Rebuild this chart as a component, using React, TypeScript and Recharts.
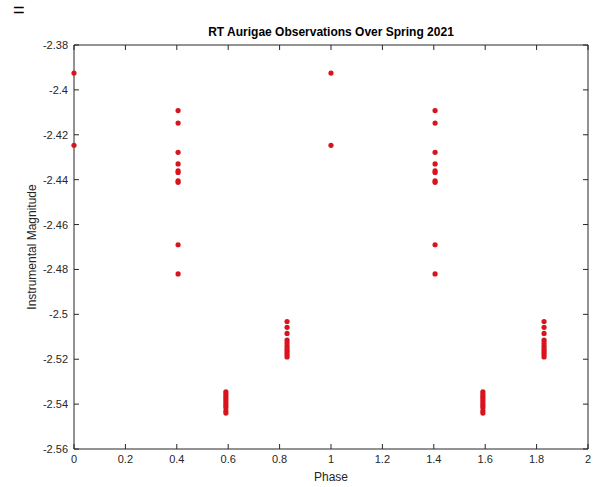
import { ScatterChart, Scatter, XAxis, YAxis } from 'recharts';

// phase clusters (each cluster repeats one period later)
const peakPhase = 0;
const peakMags = [-2.3925, -2.4247];
const riseA = 0.405;
const riseMags = [-2.4092, -2.4148, -2.4278, -2.433, -2.4361, -2.4368, -2.4405, -2.4412, -2.469, -2.482];
const minPhase = 0.591;
const minMags = [-2.5345, -2.5355, -2.5365, -2.5375, -2.5385, -2.5395, -2.5405, -2.5415, -2.543, -2.544];
const fallPhase = 0.829;
const fallMags = [-2.5032, -2.5058, -2.5085, -2.5115, -2.5128, -2.514, -2.515, -2.516, -2.517, -2.518, -2.519];

const xTicks = [0, 0.2, 0.4, 0.6, 0.8, 1, 1.2, 1.4, 1.6, 1.8, 2];
const yTicks = [-2.56, -2.54, -2.52, -2.5, -2.48, -2.46, -2.44, -2.42, -2.4, -2.38];

const clusters: [number, number[]][] = [
  [peakPhase, peakMags],
  [riseA, riseMags],
  [minPhase, minMags],
  [fallPhase, fallMags],
  [peakPhase + 1, peakMags],
  [riseA + 1, riseMags],
  [minPhase + 1, minMags],
  [fallPhase + 1, fallMags],
];
const points = clusters.flatMap(([p, mags]) => mags.map((m) => ({ phase: p, mag: m })));

const ink = '#262626';
const font = 'Liberation Sans, Arial, sans-serif';
const fmt = (v: number) => String(Number(v.toFixed(2)));

function BottomTick({ x, y, payload }: any) {
  return (
    <g>
      <line x1={x} y1={y} x2={x} y2={y - 5} stroke={ink} />
      <text x={x} y={y + 14} textAnchor="middle" fontSize={11} fill={ink} fontFamily={font}>
        {fmt(payload.value)}
      </text>
    </g>
  );
}
function TopTick({ x, y }: any) {
  return <line x1={x} y1={y} x2={x} y2={y + 5} stroke={ink} />;
}
function LeftTick({ x, y, payload }: any) {
  return (
    <g>
      <line x1={x} y1={y} x2={x + 5} y2={y} stroke={ink} />
      <text x={x - 6} y={y + 4} textAnchor="end" fontSize={11} fill={ink} fontFamily={font}>
        {fmt(payload.value)}
      </text>
    </g>
  );
}
function RightTick({ x, y }: any) {
  return <line x1={x} y1={y} x2={x - 5} y2={y} stroke={ink} />;
}

const Dot = (p: any) => <circle cx={p.cx} cy={p.cy} r={2.6} fill="#d8141e" />;
const NoDot = () => <g />;

export default function App() {
  return (
    <div style={{ position: 'absolute', left: 0, top: 0, width: 597, height: 487, background: '#fff', fontFamily: font }}>
      <div style={{ position: 'absolute', left: 13, top: 0, fontSize: 20, lineHeight: 1, color: '#000' }}>=</div>
      <ScatterChart width={597} height={487} margin={{ top: 44, right: 8, bottom: 8, left: 14 }}>
        <text x={331} y={36} textAnchor="middle" fontSize={12} fontWeight="bold" fill="#000" fontFamily={font}>
          RT Aurigae Observations Over Spring 2021
        </text>
        <XAxis
          xAxisId="b"
          type="number"
          dataKey="phase"
          domain={[0, 2]}
          ticks={xTicks}
          tick={<BottomTick />}
          tickLine={false}
          tickSize={0}
          tickMargin={0}
          height={30}
          stroke={ink}
          interval={0}
          label={{ value: 'Phase', position: 'insideBottom', offset: -2, fontSize: 12, fill: ink, fontFamily: font }}
        />
        <XAxis
          xAxisId="t"
          orientation="top"
          type="number"
          dataKey="phase"
          domain={[0, 2]}
          ticks={xTicks}
          tick={<TopTick />}
          tickLine={false}
          tickSize={0}
          tickMargin={0}
          height={1}
          stroke={ink}
          interval={0}
        />
        <YAxis
          yAxisId="l"
          type="number"
          dataKey="mag"
          domain={[-2.56, -2.38]}
          ticks={yTicks}
          tick={<LeftTick />}
          tickLine={false}
          tickSize={0}
          tickMargin={0}
          width={60}
          stroke={ink}
          interval={0}
          label={{ value: 'Instrumental Magnitude', angle: -90, position: 'insideLeft', offset: 18, fontSize: 12, fill: ink, fontFamily: font, style: { textAnchor: 'middle' } }}
        />
        <YAxis
          yAxisId="r"
          orientation="right"
          type="number"
          dataKey="mag"
          domain={[-2.56, -2.38]}
          ticks={yTicks}
          tick={<RightTick />}
          tickLine={false}
          tickSize={0}
          tickMargin={0}
          width={1}
          stroke={ink}
          interval={0}
        />
        <Scatter data={points} xAxisId="t" yAxisId="r" shape={NoDot} isAnimationActive={false} />
        <Scatter data={points} xAxisId="b" yAxisId="l" shape={Dot} isAnimationActive={false} />
      </ScatterChart>
    </div>
  );
}
